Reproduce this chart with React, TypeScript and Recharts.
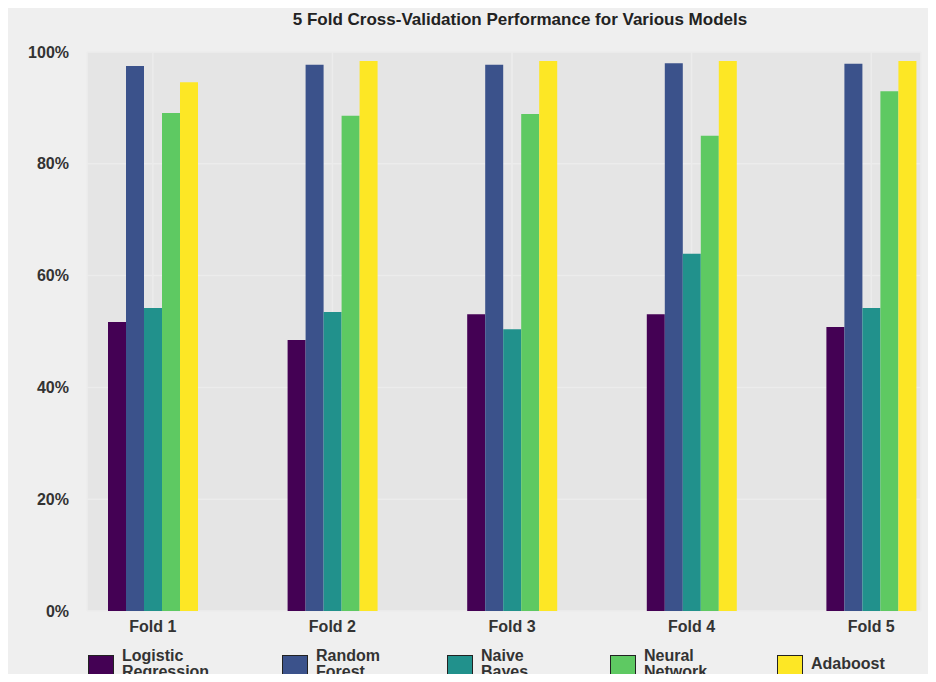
import { BarChart, Bar, XAxis, YAxis, CartesianGrid } from "recharts";

const folds = ["Fold 1", "Fold 2", "Fold 3", "Fold 4", "Fold 5"];
const logistic = [51.7, 48.5, 53.1, 53.1, 50.8];
const randomForest = [97.5, 97.7, 97.7, 98.0, 97.9];
const naiveBayes = [54.2, 53.5, 50.4, 63.9, 54.2];
const neuralNet = [89.1, 88.6, 88.9, 85.0, 93.0];
const adaboost = [94.6, 98.4, 98.4, 98.4, 98.4];

const series = [
  { key: "lr", label: ["Logistic", "Regression"], color: "#440154", values: logistic },
  { key: "rf", label: ["Random", "Forest"], color: "#3b528b", values: randomForest },
  { key: "nb", label: ["Naive", "Bayes"], color: "#21918c", values: naiveBayes },
  { key: "nn", label: ["Neural", "Network"], color: "#5ec962", values: neuralNet },
  { key: "ada", label: ["Adaboost"], color: "#fde725", values: adaboost },
];

const data = folds.map((f, i) => {
  const row: Record<string, any> = { fold: f };
  series.forEach((s) => (row[s.key] = s.values[i]));
  return row;
});

const font = "'Liberation Sans', Arial, sans-serif";
const legendX = [88, 282, 447, 610, 777];

export default function App() {
  return (
    <div style={{ margin: -8, width: 936, height: 682, background: "#efefef", position: "relative", overflow: "hidden", fontFamily: font }}>
      <div style={{ position: "absolute", top: 10, left: 0, width: 1040, textAlign: "center", fontWeight: "bold", fontSize: 17, color: "#222" }}>
        5 Fold Cross-Validation Performance for Various Models
      </div>
      <BarChart
        width={936}
        height={682}
        data={data}
        margin={{ top: 52, right: 15, bottom: 41, left: 17 }}
        barCategoryGap={45}
        barGap={0}
      >
        <CartesianGrid fill="#e5e5e5" stroke="#ececec" strokeWidth={1.5} />
        <XAxis
          dataKey="fold"
          axisLine={false}
          tickLine={false}
          height={30}
          padding={{ left: -24, right: -40 }}
          tick={{ fontSize: 16, fontWeight: "bold", fill: "#333", fontFamily: font }}
          tickMargin={4}
        />
        <YAxis
          width={70}
          domain={[0, 100]}
          ticks={[0, 20, 40, 60, 80, 100]}
          tickFormatter={(v) => `${v}%`}
          axisLine={false}
          tickLine={false}
          tick={{ fontSize: 16, fontWeight: "bold", fill: "#333", fontFamily: font }}
          tickMargin={12}
        />
        {series.map((s) => (
          <Bar key={s.key} dataKey={s.key} fill={s.color} barSize={18} isAnimationActive={false} />
        ))}
      </BarChart>
      {series.map((s, i) => (
        <div key={s.key} style={{ position: "absolute", top: 646, left: legendX[i], display: "flex", alignItems: "flex-start" }}>
          <div style={{ width: 24, height: 18, background: s.color, border: "1.5px solid #222", marginTop: 9, marginRight: 8 }} />
          <div style={{ fontSize: 16, fontWeight: "bold", color: "#333", lineHeight: "16px", marginTop: s.label.length === 1 ? 10 : 2 }}>
            {s.label.map((l) => (
              <div key={l}>{l}</div>
            ))}
          </div>
        </div>
      ))}
    </div>
  );
}
